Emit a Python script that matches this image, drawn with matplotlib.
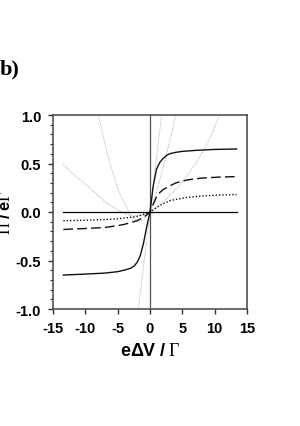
import matplotlib
matplotlib.use("Agg")
import matplotlib.pyplot as plt
from matplotlib.ticker import MultipleLocator

plt.rcParams['font.family'] = ['Liberation Sans', 'DejaVu Sans']
plt.rcParams['axes.unicode_minus'] = False
plt.rcParams['mathtext.fontset'] = 'custom'
plt.rcParams['mathtext.rm'] = 'Liberation Serif'
plt.rcParams['mathtext.it'] = 'Liberation Serif:italic'
plt.rcParams['mathtext.bf'] = 'Liberation Sans:bold'

# solid curve
solid_x = [-13.4, -10, -7, -5, -4, -3, -2.5, -2, -1.5, -1, -0.5, 0,
           0.5, 1, 1.5, 2, 2.5, 3, 4, 5, 7, 10, 13.4]
solid_y = [-0.65, -0.64, -0.63, -0.615, -0.60, -0.58, -0.56, -0.52, -0.45, -0.32, -0.15, 0,
           0.27, 0.44, 0.51, 0.55, 0.58, 0.60, 0.615, 0.625, 0.635, 0.645, 0.65]

# dashed curve
dash_x = [-13.4, -10, -7, -5, -4, -3, -2, -1, -0.5, 0,
          0.5, 1, 1.5, 2, 2.8, 4, 5.7, 8, 10.8, 13.4]
dash_y = [-0.18, -0.17, -0.16, -0.14, -0.128, -0.11, -0.09, -0.055, -0.03, 0,
          0.08, 0.155, 0.2, 0.23, 0.26, 0.3, 0.33, 0.35, 0.36, 0.365]

# dotted curve
dot_x = [-13.4, -10, -7, -5, -3, -2, -1, 0, 1, 2, 3, 4, 5.7, 8, 10.8, 13.4]
dot_y = [-0.09, -0.085, -0.078, -0.07, -0.055, -0.045, -0.025, 0,
         0.045, 0.085, 0.115, 0.13, 0.15, 0.165, 0.175, 0.18]

# thin grey approximations
g1_x = [-1.8, 0, 1.8]
g1_y = [-1.0, 0, 1.0]
g2_x = [-8, -6.5, -5, -4, -3, -2, -1, 0, 1, 2, 3, 4]
g2_y = [1.0, 0.57, 0.24, 0.1, -0.04, -0.1, -0.08, 0, 0.2, 0.45, 0.72, 1.0]
g3_x = [-13.4, -11.5, -9.5, -7, -5, -3, -1.5, 0, 1, 2.3, 4.4, 7, 9, 10.8]
g3_y = [0.49, 0.37, 0.26, 0.11, 0.02, -0.04, -0.04, 0, 0.05, 0.12, 0.26, 0.49, 0.72, 1.0]

zero_x = [-13.4, 13.4]
zero_y = [0, 0]

fig = plt.figure(figsize=(3.0, 4.27), dpi=100)
ax = fig.add_axes([53/300, 1-310/427, 194/300, 194/427])

grey = dict(color='#a0a0a0', lw=0.6, ls=(0, (1, 1.2)))
ax.plot(g1_x, g1_y, **grey)
ax.plot(g2_x, g2_y, **grey)
ax.plot(g3_x, g3_y, **grey)

ax.axvline(0, color='#555555', lw=0.9)
ax.plot(zero_x, zero_y, color='black', lw=0.9)

ax.plot(solid_x, solid_y, color='#111111', lw=1.0)
ax.plot(dash_x, dash_y, color='#111111', lw=1.0, dashes=(7, 3))
ax.plot(dot_x, dot_y, color='#111111', lw=1.0, dashes=(1, 1.4))

ax.set_xlim(-15, 15)
ax.set_ylim(-1, 1)
ax.set_xticks([-15, -10, -5, 0, 5, 10, 15])
ax.set_yticks([-1.0, -0.5, 0.0, 0.5, 1.0])
ax.set_yticklabels(['-1.0', '-0.5', '0.0', '0.5', '1.0'])
ax.yaxis.set_minor_locator(MultipleLocator(0.1))
ax.tick_params(which='major', direction='out', length=3.5, width=1, pad=5,
               labelsize=10.5, colors='#333333', labelcolor='black')
ax.tick_params(which='minor', direction='out', length=2, width=0.8, colors='#333333')
for lab in ax.get_xticklabels() + ax.get_yticklabels():
    lab.set_fontweight('bold')
for sp in ax.spines.values():
    sp.set_linewidth(1.1)
    sp.set_color('#444444')

ax.set_xlabel(r'$\mathbf{e\Delta V\ /\ }\Gamma$', fontsize=13, labelpad=5)
fig.text(0.018, 1-213/427, r'$\Pi\ \mathbf{/\ e}\Gamma$', rotation=90,
         fontsize=12, ha='center', va='center')

fig.text(0.0, 1-69/427, 'b)', family='Liberation Serif', fontweight='bold',
         fontsize=16, ha='left', va='center')

fig.savefig('out.png', dpi=100)
